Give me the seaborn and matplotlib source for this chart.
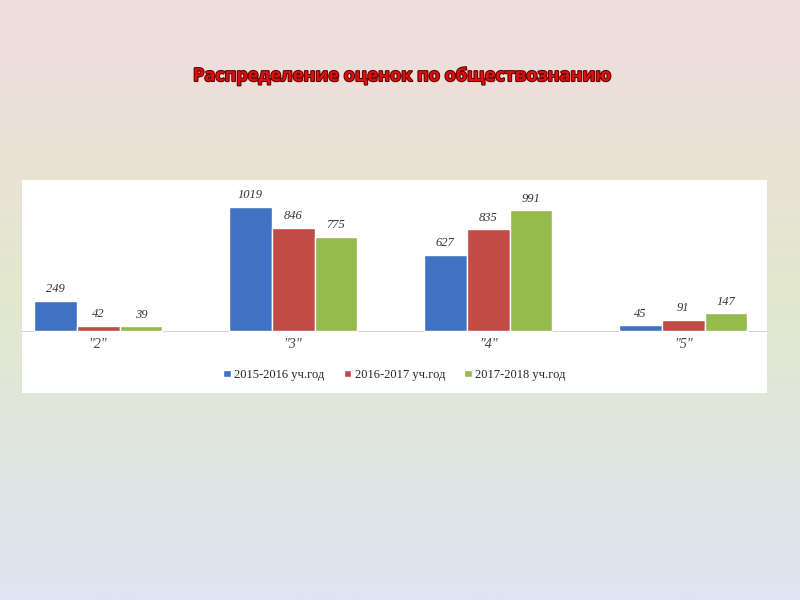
import numpy as np
import pandas as pd
import matplotlib
matplotlib.use("Agg")
import matplotlib.pyplot as plt
import matplotlib.patheffects as pe
import seaborn as sns

categories = ['"2"', '"3"', '"4"', '"5"']
series = ["2015-2016 уч.год", "2016-2017 уч.год", "2017-2018 уч.год"]
v2015 = [249, 1019, 627, 45]
v2016 = [42, 846, 835, 91]
v2017 = [39, 775, 991, 147]
colors = ["#3f72c2", "#c24a47", "#95bb4c"]

rows = []
for s, vals in zip(series, [v2015, v2016, v2017]):
    for c, v in zip(categories, vals):
        rows.append({"cat": c, "series": s, "value": v})
df = pd.DataFrame(rows)

sns.set_theme(style="white")
plt.rcParams['font.family'] = ['DejaVu Sans']
fig = plt.figure(figsize=(8, 6), dpi=100)

# background gradient
bg = fig.add_axes([0, 0, 1, 1])
top = np.array([240, 220, 222]) / 255
mid = np.array([226, 232, 205]) / 255
bot = np.array([222, 228, 242]) / 255
t = np.linspace(0, 1, 300)[:, None]
grad = np.where(t < 0.5, top + (mid - top) * (t / 0.5), mid + (bot - mid) * ((t - 0.5) / 0.5))
bg.imshow(grad[:, None, :], aspect="auto", extent=[0, 1, 1, 0], interpolation="bilinear")
bg.set_xlim(0, 1); bg.set_ylim(1, 0)
bg.axis("off")

fig.text(0.5, 1 - 76 / 600, "Распределение оценок по обществознанию", ha="center", va="center",
         fontsize=13, fontweight="bold", color="#d81010", family="Open Sans",
         path_effects=[pe.withStroke(linewidth=1.5, foreground="#600000")])

ax = fig.add_axes([22 / 800, (600 - 393) / 600, 745 / 800, 213 / 600])
ax.set_facecolor("white")
sns.barplot(data=df, x="cat", y="value", hue="series", palette=colors, width=0.66,
            ax=ax, saturation=1, legend=True)
ax.set_xlim(-0.39, 3.43)
ax.set_ylim(-510, 1241)
for sp in ax.spines.values():
    sp.set_visible(False)
ax.set_xticks([]); ax.set_yticks([])
ax.set_xlabel(""); ax.set_ylabel("")
for cont in ax.containers:
    ax.bar_label(cont, padding=4, fontsize=9, fontstyle="italic", family="Liberation Serif", color="#333333")
for i, c in enumerate(categories):
    ax.text(i, -60, c, ha="center", va="top", fontsize=10, fontstyle="italic",
            family="Liberation Serif", color="#444444")
ax.axhline(0, color="#cccccc", lw=0.6, zorder=0)
leg = ax.legend(loc="center", bbox_to_anchor=(0.50, 0.085), ncol=3, frameon=False,
                prop={"family": "Liberation Serif", "size": 9}, handlelength=0.6,
                handleheight=0.6, columnspacing=1.5, handletextpad=0.3)
fig.savefig("out.png", dpi=100)
